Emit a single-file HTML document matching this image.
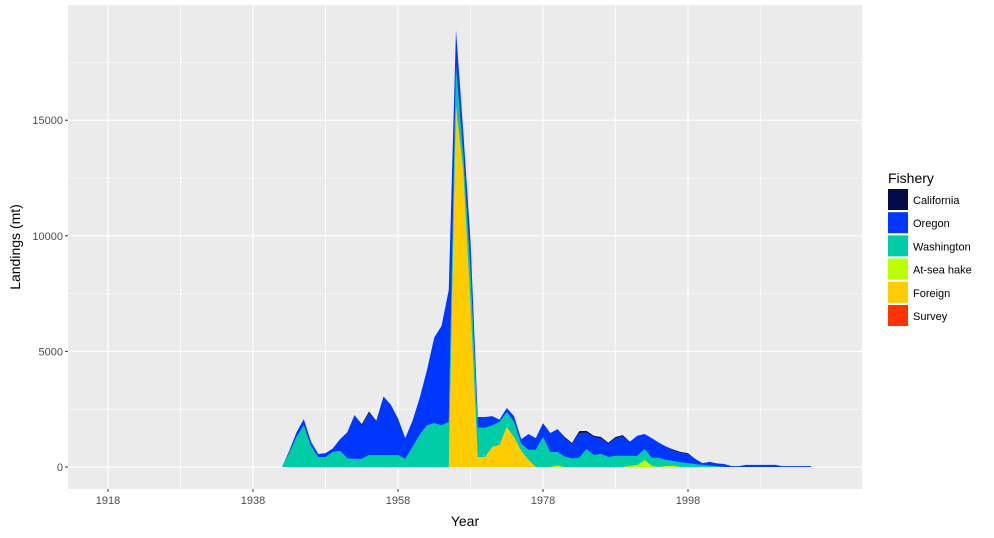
<!DOCTYPE html>
<html><head><meta charset="utf-8"><style>
body{margin:0;background:#fff;font-family:"Liberation Sans",Arial,sans-serif}
svg text{font-family:"Liberation Sans",Arial,sans-serif}
</style></head><body>
<svg id="chart" width="994" height="533"></svg>
<script>
const years = [];
for (let y = 1942; y <= 2015; y++) years.push(y);
const survey = new Array(74).fill(0);
const foreign = [0,0,0,0,0,0,0,0,0,0, 0,0,0,0,0,0,0,0,0,0, 0,0,0,0,15600,12800,7000,430,430,870, 950,1730,1300,700,300,0,0,0,0,0, 0,0,0,0,0,0,0,0,0,0, 0,0,0,0,0,0,0,0,0,0, 0,0,0,0,0,0,0,0,0,0, 0,0,0,0];
const atSea = [0,0,0,0,0,0,0,0,0,0, 0,0,0,0,0,0,0,0,0,0, 0,0,0,0,0,0,0,0,0,0, 0,0,0,0,0,0,0,0,60,0, 0,0,0,0,0,0,0,0,50,80, 300,60,0,50,50,0,0,0,0,0, 0,0,0,0,0,0,0,0,0,0, 0,0,0,0];
const washington = [0,600,1300,1800,900,430,430,650,700,380, 350,350,520,520,520,520,520,350,870,1400, 1800,1900,1800,1950,1700,700,1500,1270,1270,930, 1000,650,650,300,440,740,1300,650,590,450, 370,400,780,520,560,430,480,480,430,400, 480,340,390,250,210,200,170,120,90,60, 40,0,0,0,0,0,0,0,0,0, 0,0,0,0];
const oregon = [0,100,200,270,200,130,170,150,500,1120, 1900,1420,1820,1430,2530,2180,1580,900,1130,1600, 2400,3700,4300,5700,1600,1000,1300,460,460,400, 100,170,250,200,690,510,600,820,990,800, 610,1070,700,770,680,570,760,840,620,870, 650,850,660,580,450,410,400,230,80,160, 90,130,40,40,90,90,90,90,90,40, 40,40,40,40];
const california = [0,0,0,0,0,0,0,0,0,0, 0,80,60,50,0,0,0,0,0,0, 0,0,0,0,0,0,0,0,0,0, 0,0,0,0,0,0,0,0,0,50, 60,80,80,60,60,50,60,60,0,0, 0,0,0,0,40,40,30,0,0,0, 20,0,0,0,0,0,0,0,0,0, 0,0,0,0];
const xTicks = [1918,1938,1958,1978,1998];
const yTicks = [0,5000,10000,15000];
const legendLabels = ["California","Oregon","Washington","At-sea hake","Foreign","Survey"];
const legendColors = ["#000B47","#0037FF","#00CCA6","#BBFF00","#FFCC00","#FF3300"];

const NS = "http://www.w3.org/2000/svg";
const svg = document.getElementById("chart");
const P = {l:68, r:862, t:5, b:489};
const xs = yr => 108 + (yr - 1918) * 7.25;
const ys = v => 467 - v * (346.8 / 15000);
function el(tag, attrs, parent) {
  const e = document.createElementNS(NS, tag);
  for (const k in attrs) e.setAttribute(k, attrs[k]);
  (parent || svg).appendChild(e);
  return e;
}
const panel = el("rect", {x:P.l, y:P.t, width:P.r-P.l, height:P.b-P.t, fill:"#EBEBEB"});


// minor grid
for (let i = 0; i < xTicks.length; i++) {
  for (const m of [xTicks[i]-10, xTicks[i]+10]) {
    const x = xs(m);
    if (x > P.l && x < P.r) {
      const g = el("line", {x1:x, x2:x, y1:P.t, y2:P.b, stroke:"#fff", "stroke-width":0.55});
      
      
    }
  }
}
for (let i = 0; i < yTicks.length; i++) {
  const y = ys(yTicks[i] + 2500);
  if (y > P.t) {
    const g = el("line", {x1:P.l, x2:P.r, y1:y, y2:y, stroke:"#fff", "stroke-width":0.55});
    
    
  }
}
xTicks.forEach(t => {
  const x = xs(t);
  const g = el("line", {x1:x, x2:x, y1:P.t, y2:P.b, stroke:"#fff", "stroke-width":1.1});
  
  
  const tk = el("line", {x1:x, x2:x, y1:P.b, y2:P.b+3, stroke:"#333", "stroke-width":1});
  
  
  const lb = el("text", {x:x, y:P.b+15, "text-anchor":"middle", "font-size":11, fill:"#4D4D4D"});
  lb.textContent = t;
  
  
});
yTicks.forEach(t => {
  const y = ys(t);
  const g = el("line", {x1:P.l, x2:P.r, y1:y, y2:y, stroke:"#fff", "stroke-width":1.1});
  
  
  const tk = el("line", {x1:P.l-3, x2:P.l, y1:y, y2:y, stroke:"#333", "stroke-width":1});
  
  
  const lb = el("text", {x:P.l-5, y:y+4, "text-anchor":"end", "font-size":11, fill:"#4D4D4D"});
  lb.textContent = t;
  
  
});
// stacked areas: bottom to top
const stack = [
  {name:"survey", vals:survey, color:legendColors[5]},
  {name:"foreign", vals:foreign, color:legendColors[4]},
  {name:"at-sea-hake", vals:atSea, color:legendColors[3]},
  {name:"washington", vals:washington, color:legendColors[2]},
  {name:"oregon", vals:oregon, color:legendColors[1]},
  {name:"california", vals:california, color:legendColors[0]}
];
let base = years.map(() => 0);
stack.forEach(s => {
  const top = base.map((b, i) => b + s.vals[i]);
  let d = "";
  years.forEach((yr, i) => { d += (i ? "L" : "M") + xs(yr).toFixed(2) + "," + ys(top[i]).toFixed(2); });
  for (let i = years.length - 1; i >= 0; i--) d += "L" + xs(years[i]).toFixed(2) + "," + ys(base[i]).toFixed(2);
  d += "Z";
  const p = el("path", {d:d, fill:s.color, stroke:"none"});
  
  
  base = top;
});
const xt = el("text", {x:(P.l+P.r)/2, y:526, "text-anchor":"middle", "font-size":14, fill:"#000"});
xt.textContent = "Year";


const yt = el("text", {x:0, y:0, "text-anchor":"middle", "font-size":14, fill:"#000", transform:"translate(20,247) rotate(-90)"});
yt.textContent = "Landings (mt)";


const lt = el("text", {x:888, y:183, "font-size":14, fill:"#000"});
lt.textContent = "Fishery";


legendLabels.forEach((lab, i) => {
  const y = 189 + i * 23.2;
  const k = el("rect", {x:888, y:y, width:20, height:21, fill:legendColors[i]});
  
  
  const t = el("text", {x:913, y:y+15, "font-size":11, fill:"#000"});
  t.textContent = lab;
  
  
});
</script>
</body></html>
